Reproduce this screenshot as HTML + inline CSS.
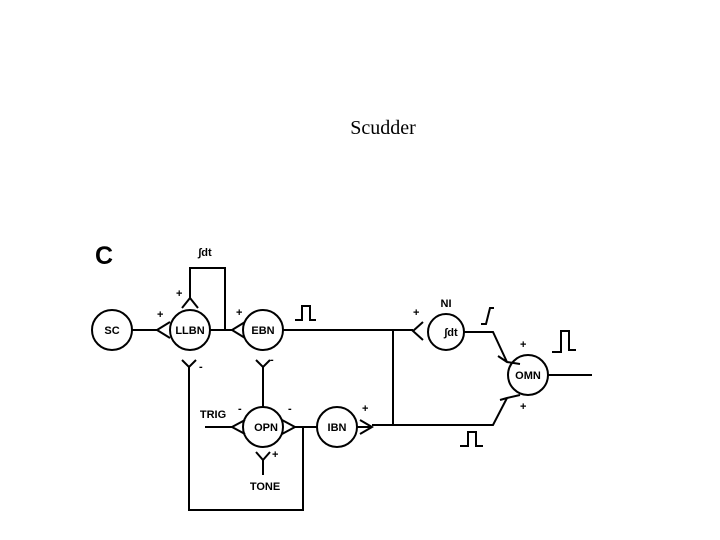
<html><body style="margin:0;width:720px;height:540px;background:#fff;overflow:hidden">
<svg width="720" height="540" xmlns="http://www.w3.org/2000/svg" font-family="Liberation Sans, sans-serif">
<text x="383" y="134" font-family="Liberation Serif, serif" font-size="20" text-anchor="middle">Scudder</text>
<text x="95" y="264" font-size="25" font-weight="bold">C</text>
<g fill="none" stroke="#000" stroke-width="2">
<circle cx="112" cy="330" r="20"/><circle cx="190" cy="330" r="20"/><circle cx="263" cy="330" r="20"/>
<circle cx="263" cy="427" r="20"/><circle cx="337" cy="427" r="20"/><circle cx="446" cy="332" r="18"/><circle cx="528" cy="375" r="20"/>
<path d="M132 330H157M170 322L157 330L170 338"/>
<path d="M182 308L190 298L198 308M190 298V268H225V330M210 330H232M245 322L232 330L245 338"/>
<path d="M182 360L189 367L196 360M189 367V510H303V427M295 427H317M282 420L295 427L282 434"/>
<path d="M256 360L263 367L270 360M263 367V407M205 427H232M245 420L232 427L245 434"/>
<path d="M256 452L263 460L270 452M263 460V475"/>
<path d="M357 427H372M360 420L372 427L360 434M372 425H493L507 398M500 400L507 398L520 395"/>
<path d="M393 330V425M283 330H413M423 322L413 331L423 340M464 332H493L507 362M498 356L507 362L520 364"/>
<path d="M548 375H592"/>
<path d="M295 320H302V306H310V320H316"/>
<path d="M481 324H486L490 308H494"/>
<path d="M552 352H561V331H569V350H576"/>
<path d="M460 446H468V432H476V446H483"/>
</g>
<g font-size="11" font-weight="bold" text-anchor="middle">
<text x="112" y="334">SC</text><text x="190" y="334">LLBN</text><text x="263" y="334">EBN</text>
<text x="266" y="431">OPN</text><text x="337" y="431">IBN</text><text x="528" y="379">OMN</text>
<text x="451" y="336">∫dt</text><text x="446" y="307">NI</text>
<text x="213" y="418">TRIG</text><text x="265" y="490">TONE</text>
<text x="205" y="256">∫dt</text>
</g>
<g font-size="11" font-weight="bold">
<text x="176" y="297">+</text><text x="157" y="318">+</text><text x="236" y="316">+</text>
<text x="199" y="370">-</text><text x="270" y="363">-</text><text x="238" y="412">-</text><text x="288" y="412">-</text>
<text x="272" y="458">+</text><text x="362" y="412">+</text><text x="413" y="316">+</text>
<text x="520" y="348">+</text><text x="520" y="410">+</text>
</g>
</svg></body></html>
